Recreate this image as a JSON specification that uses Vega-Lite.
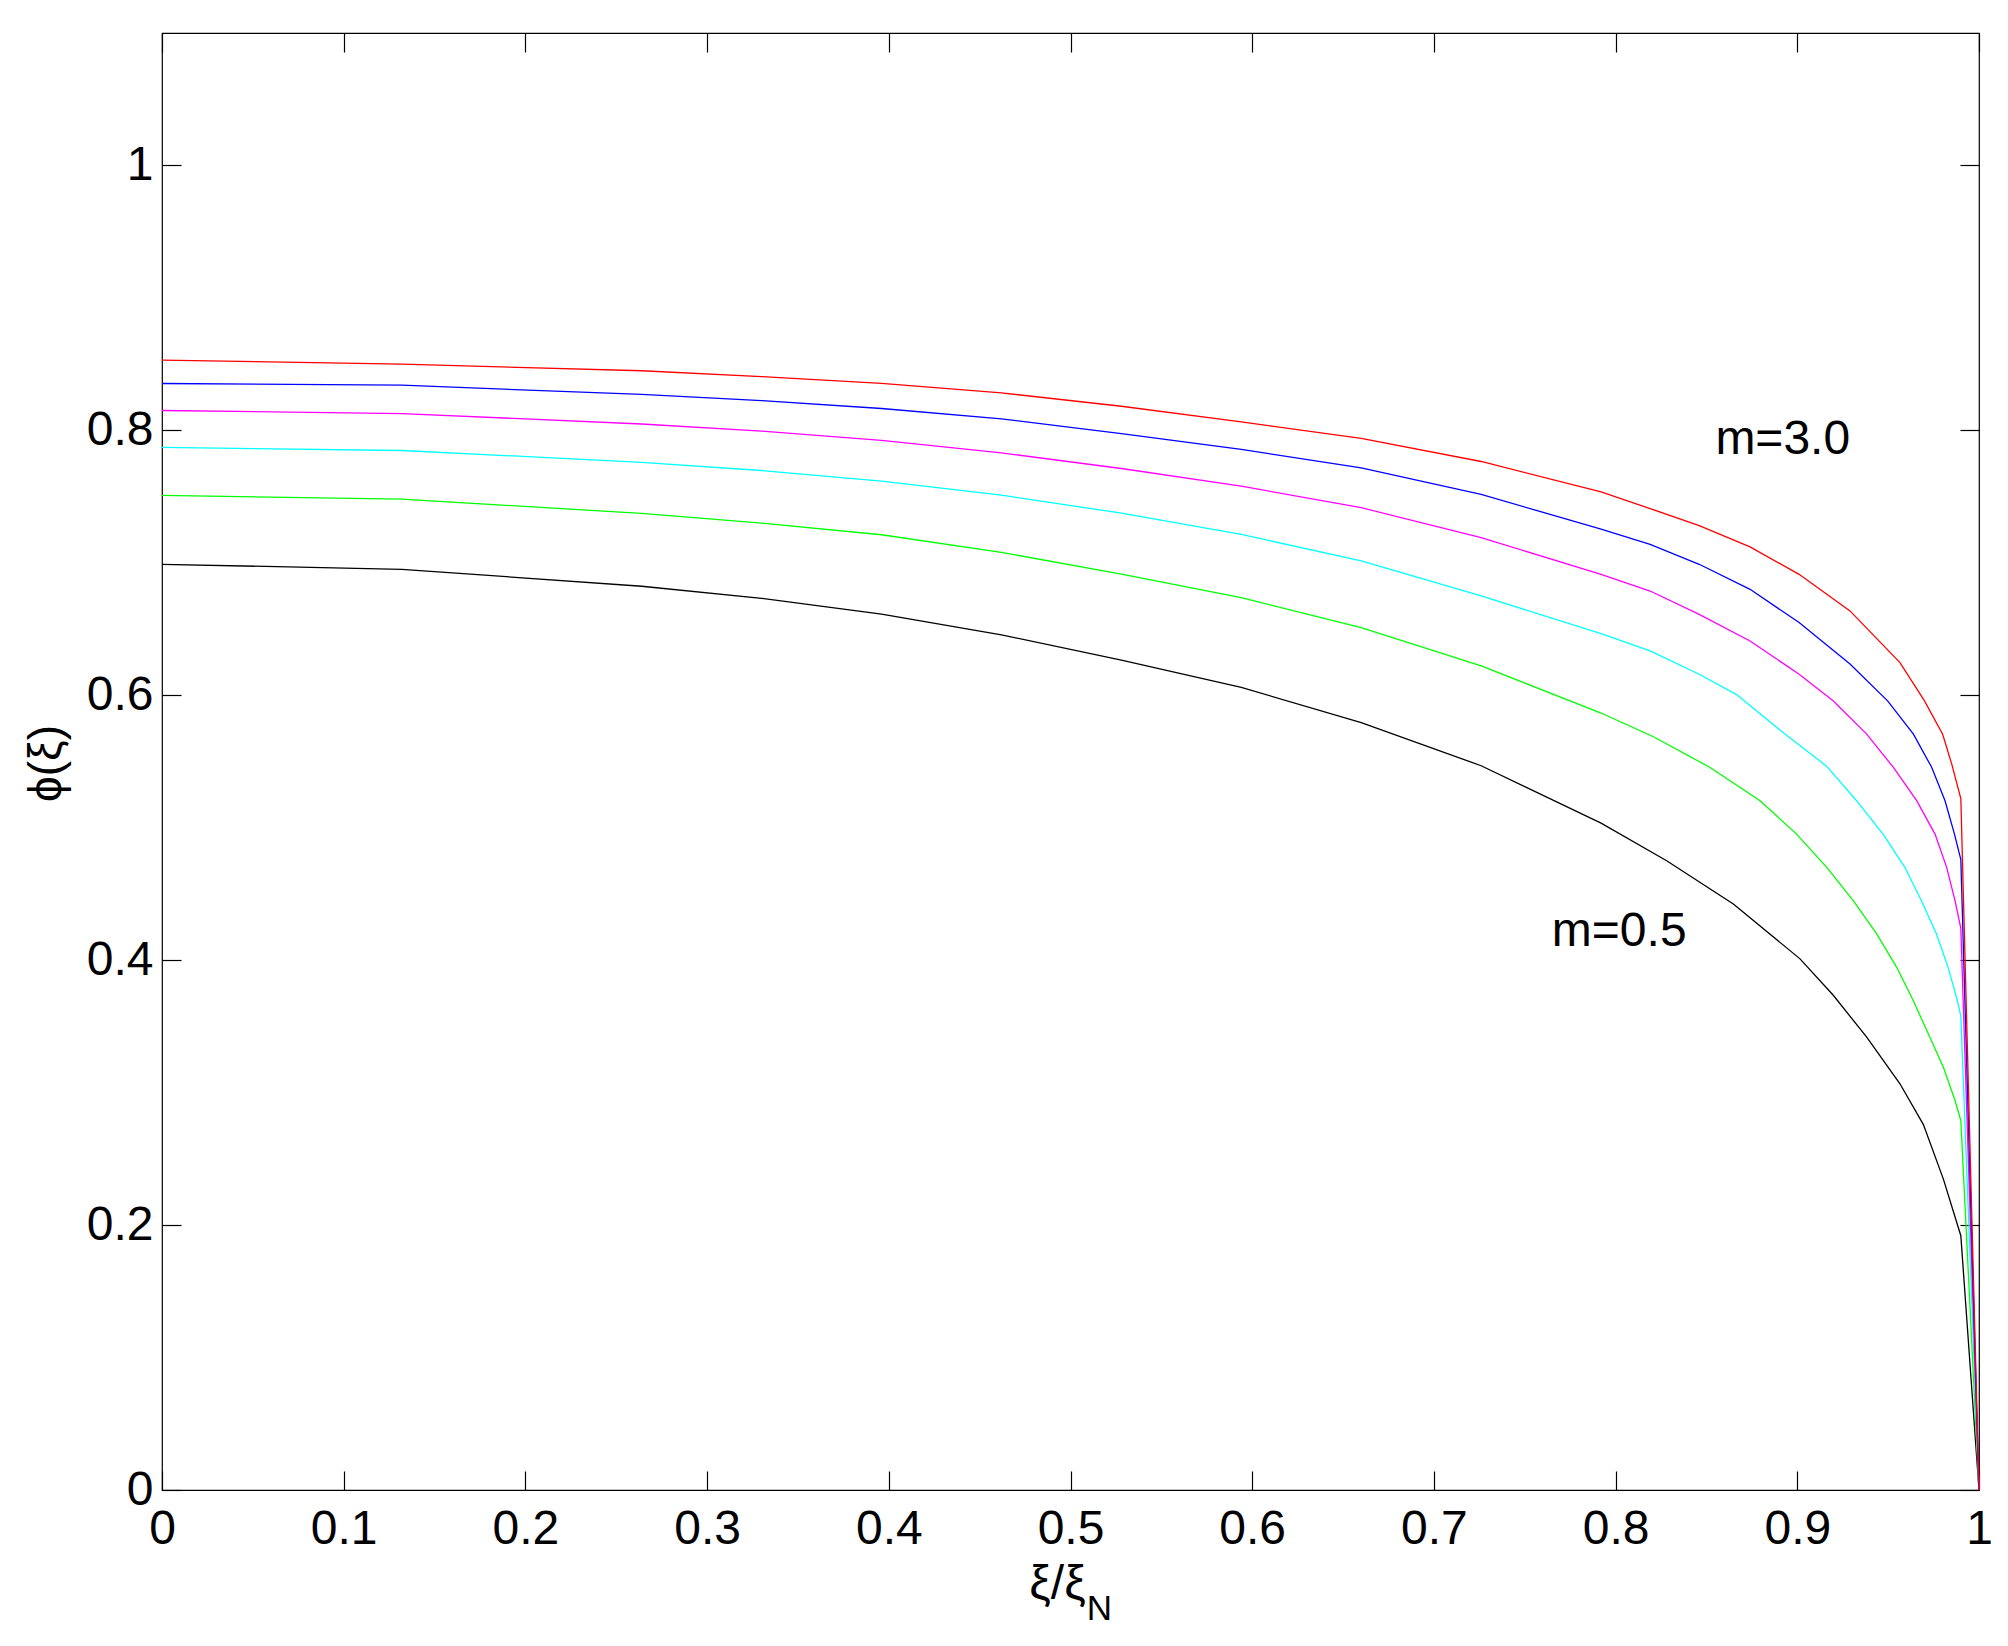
{
  "$schema": "https://vega.github.io/schema/vega-lite/v6.json",
  "description": "phi(xi) against xi/xi_N for m = 0.5 ... 3.0",
  "width": 1817,
  "height": 1457,
  "autosize": {"type": "none"},
  "padding": {"left": 162, "top": 33, "right": 29, "bottom": 156},
  "background": "white",
  "config": {
    "view": {"stroke": "black", "strokeWidth": 1.2},
    "font": "Liberation Sans"
  },
  "datasets": {
    "curves": [
      {"m": "0.5", "x": 0, "y": 0.6989},
      {"m": "0.5", "x": 0.132, "y": 0.6951},
      {"m": "0.5", "x": 0.264, "y": 0.6823},
      {"m": "0.5", "x": 0.33, "y": 0.6732},
      {"m": "0.5", "x": 0.396, "y": 0.6612},
      {"m": "0.5", "x": 0.462, "y": 0.6456},
      {"m": "0.5", "x": 0.528, "y": 0.6265},
      {"m": "0.5", "x": 0.594, "y": 0.6059},
      {"m": "0.5", "x": 0.66, "y": 0.5794},
      {"m": "0.5", "x": 0.726, "y": 0.5468},
      {"m": "0.5", "x": 0.792, "y": 0.5035},
      {"m": "0.5", "x": 0.8281, "y": 0.4751},
      {"m": "0.5", "x": 0.8648, "y": 0.4424},
      {"m": "0.5", "x": 0.9015, "y": 0.401},
      {"m": "0.5", "x": 0.9198, "y": 0.3735},
      {"m": "0.5", "x": 0.9382, "y": 0.3419},
      {"m": "0.5", "x": 0.9565, "y": 0.3067},
      {"m": "0.5", "x": 0.9694, "y": 0.2759},
      {"m": "0.5", "x": 0.9804, "y": 0.2347},
      {"m": "0.5", "x": 0.99, "y": 0.192},
      {"m": "0.5", "x": 1, "y": 0},
      {"m": "1.0", "x": 0, "y": 0.7509},
      {"m": "1.0", "x": 0.132, "y": 0.7481},
      {"m": "1.0", "x": 0.264, "y": 0.7373},
      {"m": "1.0", "x": 0.33, "y": 0.73},
      {"m": "1.0", "x": 0.396, "y": 0.7212},
      {"m": "1.0", "x": 0.462, "y": 0.7079},
      {"m": "1.0", "x": 0.528, "y": 0.6915},
      {"m": "1.0", "x": 0.594, "y": 0.6737},
      {"m": "1.0", "x": 0.66, "y": 0.6511},
      {"m": "1.0", "x": 0.726, "y": 0.6222},
      {"m": "1.0", "x": 0.792, "y": 0.5866},
      {"m": "1.0", "x": 0.8208, "y": 0.5687},
      {"m": "1.0", "x": 0.852, "y": 0.5455},
      {"m": "1.0", "x": 0.8795, "y": 0.5204},
      {"m": "1.0", "x": 0.8996, "y": 0.4952},
      {"m": "1.0", "x": 0.9162, "y": 0.4701},
      {"m": "1.0", "x": 0.9308, "y": 0.4449},
      {"m": "1.0", "x": 0.9437, "y": 0.4198},
      {"m": "1.0", "x": 0.9547, "y": 0.3946},
      {"m": "1.0", "x": 0.9638, "y": 0.3695},
      {"m": "1.0", "x": 0.9721, "y": 0.3444},
      {"m": "1.0", "x": 0.9804, "y": 0.3192},
      {"m": "1.0", "x": 0.9868, "y": 0.2941},
      {"m": "1.0", "x": 0.99, "y": 0.279},
      {"m": "1.0", "x": 1, "y": 0},
      {"m": "1.5", "x": 0, "y": 0.7871},
      {"m": "1.5", "x": 0.132, "y": 0.7848},
      {"m": "1.5", "x": 0.264, "y": 0.7759},
      {"m": "1.5", "x": 0.33, "y": 0.7697},
      {"m": "1.5", "x": 0.396, "y": 0.7617},
      {"m": "1.5", "x": 0.462, "y": 0.7511},
      {"m": "1.5", "x": 0.528, "y": 0.7375},
      {"m": "1.5", "x": 0.594, "y": 0.7215},
      {"m": "1.5", "x": 0.66, "y": 0.7014},
      {"m": "1.5", "x": 0.726, "y": 0.675},
      {"m": "1.5", "x": 0.792, "y": 0.6465},
      {"m": "1.5", "x": 0.819, "y": 0.6335},
      {"m": "1.5", "x": 0.846, "y": 0.6159},
      {"m": "1.5", "x": 0.8666, "y": 0.6005},
      {"m": "1.5", "x": 0.8932, "y": 0.5707},
      {"m": "1.5", "x": 0.9161, "y": 0.5465},
      {"m": "1.5", "x": 0.9326, "y": 0.5204},
      {"m": "1.5", "x": 0.9472, "y": 0.4952},
      {"m": "1.5", "x": 0.9592, "y": 0.4701},
      {"m": "1.5", "x": 0.9683, "y": 0.4449},
      {"m": "1.5", "x": 0.9766, "y": 0.4198},
      {"m": "1.5", "x": 0.983, "y": 0.3946},
      {"m": "1.5", "x": 0.9881, "y": 0.3695},
      {"m": "1.5", "x": 0.99, "y": 0.358},
      {"m": "1.5", "x": 1, "y": 0},
      {"m": "2.0", "x": 0, "y": 0.815},
      {"m": "2.0", "x": 0.132, "y": 0.8127},
      {"m": "2.0", "x": 0.264, "y": 0.8048},
      {"m": "2.0", "x": 0.33, "y": 0.7994},
      {"m": "2.0", "x": 0.396, "y": 0.7924},
      {"m": "2.0", "x": 0.462, "y": 0.783},
      {"m": "2.0", "x": 0.528, "y": 0.7712},
      {"m": "2.0", "x": 0.594, "y": 0.7579},
      {"m": "2.0", "x": 0.66, "y": 0.7416},
      {"m": "2.0", "x": 0.726, "y": 0.719},
      {"m": "2.0", "x": 0.792, "y": 0.6913},
      {"m": "2.0", "x": 0.819, "y": 0.6787},
      {"m": "2.0", "x": 0.846, "y": 0.6611},
      {"m": "2.0", "x": 0.874, "y": 0.641},
      {"m": "2.0", "x": 0.901, "y": 0.6159},
      {"m": "2.0", "x": 0.9197, "y": 0.5958},
      {"m": "2.0", "x": 0.9382, "y": 0.5707},
      {"m": "2.0", "x": 0.9529, "y": 0.5455},
      {"m": "2.0", "x": 0.9657, "y": 0.5204},
      {"m": "2.0", "x": 0.9758, "y": 0.4952},
      {"m": "2.0", "x": 0.9822, "y": 0.4701},
      {"m": "2.0", "x": 0.9868, "y": 0.4449},
      {"m": "2.0", "x": 0.99, "y": 0.424},
      {"m": "2.0", "x": 1, "y": 0},
      {"m": "2.5", "x": 0, "y": 0.8354},
      {"m": "2.5", "x": 0.132, "y": 0.8341},
      {"m": "2.5", "x": 0.264, "y": 0.8271},
      {"m": "2.5", "x": 0.33, "y": 0.8225},
      {"m": "2.5", "x": 0.396, "y": 0.8165},
      {"m": "2.5", "x": 0.462, "y": 0.8087},
      {"m": "2.5", "x": 0.528, "y": 0.7976},
      {"m": "2.5", "x": 0.594, "y": 0.7856},
      {"m": "2.5", "x": 0.66, "y": 0.7717},
      {"m": "2.5", "x": 0.726, "y": 0.7516},
      {"m": "2.5", "x": 0.792, "y": 0.7255},
      {"m": "2.5", "x": 0.819, "y": 0.7139},
      {"m": "2.5", "x": 0.846, "y": 0.6989},
      {"m": "2.5", "x": 0.874, "y": 0.68},
      {"m": "2.5", "x": 0.901, "y": 0.6549},
      {"m": "2.5", "x": 0.929, "y": 0.6236},
      {"m": "2.5", "x": 0.9497, "y": 0.5958},
      {"m": "2.5", "x": 0.9639, "y": 0.5707},
      {"m": "2.5", "x": 0.974, "y": 0.5455},
      {"m": "2.5", "x": 0.9813, "y": 0.5204},
      {"m": "2.5", "x": 0.9865, "y": 0.4952},
      {"m": "2.5", "x": 0.99, "y": 0.476},
      {"m": "2.5", "x": 1, "y": 0},
      {"m": "3.0", "x": 0, "y": 0.853},
      {"m": "3.0", "x": 0.132, "y": 0.85},
      {"m": "3.0", "x": 0.264, "y": 0.845},
      {"m": "3.0", "x": 0.33, "y": 0.8406},
      {"m": "3.0", "x": 0.396, "y": 0.8354},
      {"m": "3.0", "x": 0.462, "y": 0.8283},
      {"m": "3.0", "x": 0.528, "y": 0.8182},
      {"m": "3.0", "x": 0.594, "y": 0.8064},
      {"m": "3.0", "x": 0.66, "y": 0.794},
      {"m": "3.0", "x": 0.726, "y": 0.7765},
      {"m": "3.0", "x": 0.792, "y": 0.7535},
      {"m": "3.0", "x": 0.819, "y": 0.741},
      {"m": "3.0", "x": 0.846, "y": 0.728},
      {"m": "3.0", "x": 0.874, "y": 0.712},
      {"m": "3.0", "x": 0.901, "y": 0.6913},
      {"m": "3.0", "x": 0.929, "y": 0.6637},
      {"m": "3.0", "x": 0.9565, "y": 0.6247},
      {"m": "3.0", "x": 0.97, "y": 0.5958},
      {"m": "3.0", "x": 0.98, "y": 0.5706},
      {"m": "3.0", "x": 0.985, "y": 0.548},
      {"m": "3.0", "x": 0.99, "y": 0.522},
      {"m": "3.0", "x": 1, "y": 0}
    ],
    "notes": [
      {"label": "m=3.0", "x": 0.892, "y": 0.782},
      {"label": "m=0.5", "x": 0.802, "y": 0.411}
    ]
  },
  "layer": [
    {
      "data": {"name": "curves"},
      "mark": {"type": "line", "strokeWidth": 1.3},
      "encoding": {
        "x": {
          "field": "x",
          "type": "quantitative",
          "scale": {"domain": [0, 1], "nice": false},
          "axis": {
            "orient": "bottom",
            "values": [0, 0.1, 0.2, 0.3, 0.4, 0.5, 0.6, 0.7, 0.8, 0.9, 1],
            "format": "~g",
            "grid": false,
            "domain": false,
            "tickSize": -19,
            "tickColor": "black",
            "tickWidth": 1.2,
            "labelFont": "Liberation Sans",
            "labelFontSize": 48,
            "labelColor": "black",
            "labelPadding": 34,
            "labelFlush": false,
            "labelOverlap": false,
            "title": "ξ/ξ",
            "titleFont": "Liberation Sans",
            "titleFontSize": 48,
            "titleFontWeight": "normal",
            "titleColor": "black",
            "titleX": 895,
            "titleY": 70,
            "titleAlign": "center",
            "titleBaseline": "top"
          }
        },
        "y": {
          "field": "y",
          "type": "quantitative",
          "scale": {"domain": [0, 1.1], "nice": false},
          "axis": {
            "orient": "left",
            "values": [0, 0.2, 0.4, 0.6, 0.8, 1],
            "format": "~g",
            "grid": false,
            "domain": false,
            "tickSize": -19,
            "tickColor": "black",
            "tickWidth": 1.2,
            "labelFont": "Liberation Sans",
            "labelFontSize": 48,
            "labelColor": "black",
            "labelPadding": 28,
            "labelFlush": false,
            "labelOverlap": false,
            "title": "ϕ(ξ)",
            "titleFont": "Liberation Sans",
            "titleFontSize": 46,
            "titleFontWeight": "normal",
            "titleColor": "black",
            "titleAngle": 270,
            "titleX": -102,
            "titleY": 730,
            "titleAlign": "center",
            "titleBaseline": "alphabetic"
          }
        },
        "color": {
          "field": "m",
          "type": "nominal",
          "scale": {
            "domain": ["0.5", "1.0", "1.5", "2.0", "2.5", "3.0"],
            "range": ["#000000", "#00ff00", "#00ffff", "#ff00ff", "#0000ff", "#ff0000"]
          },
          "legend": null
        }
      }
    },
    {
      "data": {"name": "notes"},
      "mark": {"type": "text", "font": "Liberation Sans", "fontSize": 48, "color": "black", "align": "center", "baseline": "alphabetic"},
      "encoding": {
        "x": {
          "field": "x",
          "type": "quantitative",
          "scale": {"domain": [0, 1], "nice": false},
          "axis": {
            "orient": "top",
            "values": [0, 0.1, 0.2, 0.3, 0.4, 0.5, 0.6, 0.7, 0.8, 0.9, 1],
            "labels": false,
            "grid": false,
            "domain": false,
            "tickSize": -19,
            "tickColor": "black",
            "tickWidth": 1.2,
            "title": null
          }
        },
        "y": {
          "field": "y",
          "type": "quantitative",
          "scale": {"domain": [0, 1.1], "nice": false},
          "axis": {
            "orient": "right",
            "values": [0, 0.2, 0.4, 0.6, 0.8, 1],
            "labels": false,
            "grid": false,
            "domain": false,
            "tickSize": -19,
            "tickColor": "black",
            "tickWidth": 1.2,
            "title": null
          }
        },
        "text": {"field": "label"}
      }
    },
    {
      "data": {"values": [{}]},
      "mark": {"type": "text", "font": "Liberation Sans", "fontSize": 35, "color": "black", "align": "left", "baseline": "alphabetic", "dy": 130},
      "encoding": {
        "x": {"datum": 0.509, "type": "quantitative", "axis": null},
        "y": {"datum": 0, "type": "quantitative", "axis": null},
        "text": {"value": "N"}
      }
    }
  ],
  "resolve": {"axis": {"x": "independent", "y": "independent"}}
}
